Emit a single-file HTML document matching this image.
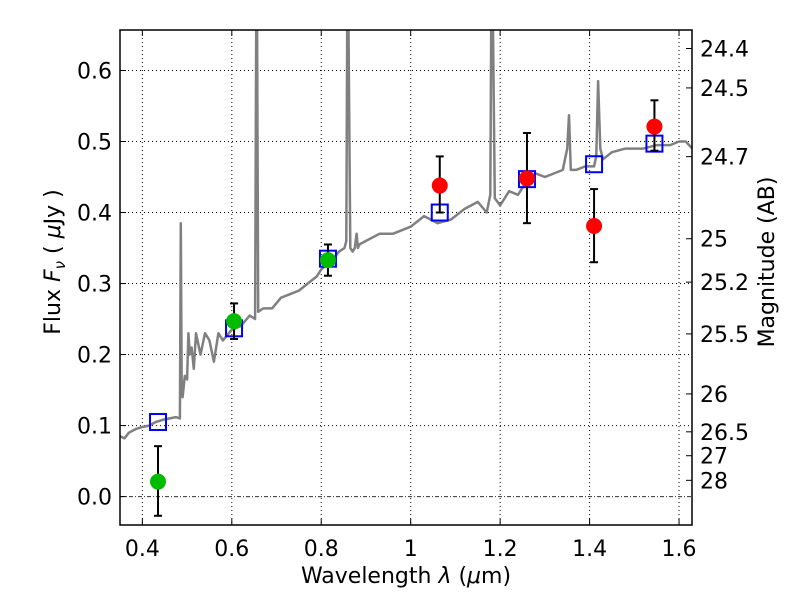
<!DOCTYPE html>
<html><head><meta charset="utf-8"><style>
html,body{margin:0;padding:0;background:#fff;}
svg text{font-family:"DejaVu Sans","Liberation Sans",sans-serif;fill:#000;}
</style></head><body>
<svg id="chart" width="800" height="600" viewBox="0 0 800 600" xmlns="http://www.w3.org/2000/svg"></svg>
<script>
// ---- data ----
const specLam = [0.35,0.36,0.37,0.385,0.40,0.415,0.43,0.445,0.46,0.475,0.484,0.486,0.488,0.49,0.495,0.5,0.503,0.506,0.51,0.515,0.52,0.53,0.54,0.55,0.56,0.57,0.58,0.6,0.62,0.64,0.652,0.6545,0.6565,0.659,0.67,0.69,0.71,0.73,0.75,0.77,0.79,0.8,0.82,0.84,0.852,0.856,0.858,0.861,0.865,0.87,0.875,0.879,0.882,0.885,0.9,0.93,0.96,1.0,1.03,1.06,1.09,1.12,1.15,1.17,1.178,1.18,1.184,1.188,1.2,1.22,1.24,1.26,1.28,1.3,1.32,1.34,1.35,1.354,1.358,1.37,1.39,1.41,1.415,1.419,1.424,1.43,1.45,1.48,1.5,1.52,1.55,1.58,1.6,1.615,1.63];
const specFlux = [0.085,0.082,0.09,0.095,0.098,0.1,0.105,0.108,0.11,0.112,0.11,0.385,0.15,0.14,0.17,0.165,0.23,0.2,0.21,0.18,0.23,0.2,0.23,0.22,0.19,0.23,0.22,0.235,0.24,0.255,0.25,0.66,0.66,0.26,0.265,0.265,0.28,0.285,0.29,0.3,0.31,0.32,0.33,0.345,0.35,0.36,0.66,0.66,0.35,0.345,0.35,0.37,0.35,0.355,0.36,0.37,0.37,0.38,0.395,0.385,0.39,0.405,0.415,0.4,0.425,0.66,0.66,0.42,0.41,0.43,0.425,0.445,0.455,0.45,0.455,0.46,0.49,0.537,0.46,0.46,0.465,0.465,0.48,0.585,0.49,0.475,0.485,0.49,0.49,0.49,0.495,0.495,0.5,0.5,0.49];
const photLam = [0.435,0.605,0.815,1.065,1.26,1.41,1.545];
const photFlux = [0.021,0.247,0.333,0.438,0.448,0.381,0.521];
const photErrLo = [0.048,0.025,0.022,0.038,0.063,0.051,0.034];
const photErrHi = [0.05,0.025,0.022,0.041,0.064,0.052,0.037];
const photColor = ['#00bb00','#00bb00','#00bb00','#ff0000','#ff0000','#ff0000','#ff0000'];
const modelLam = [0.435,0.605,0.815,1.065,1.26,1.41,1.545];
const modelFlux = [0.105,0.237,0.335,0.400,0.447,0.468,0.497];
const xTicks = [0.4,0.6,0.8,1.0,1.2,1.4,1.6];
const xTickLabels = ['0.4','0.6','0.8','1','1.2','1.4','1.6'];
const yTicks = [0.0,0.1,0.2,0.3,0.4,0.5,0.6];
const yTickLabels = ['0.0','0.1','0.2','0.3','0.4','0.5','0.6'];
const magTicks = [24.4,24.5,24.7,25,25.2,25.5,26,26.5,27,28];
const magTickLabels = ['24.4','24.5','24.7','25','25.2','25.5','26','26.5','27','28'];

// ---- axes ----
const L=120,R=692,T=30,B=525;
const xMin=0.35,xMax=1.629,yMin=-0.04,yMax=0.657;
const X=v=>L+(v-xMin)/(xMax-xMin)*(R-L);
const Y=v=>B-(v-yMin)/(yMax-yMin)*(B-T);
const magToFlux=m=>Math.pow(10,(23.9-m)/2.5);
const svg=document.getElementById('chart');
const NS='http://www.w3.org/2000/svg';
function mk(tag,attrs,parent){const e=document.createElementNS(NS,tag);for(const k in attrs)e.setAttribute(k,attrs[k]);(parent||svg).appendChild(e);return e;}
const FS=22;

const clip=mk('clipPath',{id:'pc'});mk('rect',{x:L,y:T,width:R-L,height:B-T},clip);

xTicks.forEach((t,i)=>{const g=mk('line',{x1:X(t),x2:X(t),y1:T,y2:B,stroke:'#000','stroke-width':1,'stroke-dasharray':'1,3'});

});
yTicks.forEach((t,i)=>{if(t===0)return;const g=mk('line',{x1:L,x2:R,y1:Y(t),y2:Y(t),stroke:'#000','stroke-width':1,'stroke-dasharray':'1,3'});

});
const zl=mk('line',{x1:L,x2:R,y1:Y(0),y2:Y(0),stroke:'#000','stroke-width':1,'stroke-dasharray':'4,2,1,2','opacity':0.8});



let d='';specLam.forEach((l,i)=>{d+=(i?'L':'M')+X(l).toFixed(1)+','+Y(specFlux[i]).toFixed(1);});
const sp=mk('path',{d:d,fill:'none',stroke:'#808080','stroke-width':2.5,'stroke-linejoin':'round','clip-path':'url(#pc)'});



modelLam.forEach((l,i)=>{const s=mk('rect',{x:X(l)-8,y:Y(modelFlux[i])-8,width:16,height:16,fill:'none',stroke:'#0000ff','stroke-width':2});

});

photLam.forEach((l,i)=>{const x=X(l),y1=Y(photFlux[i]+photErrHi[i]),y2=Y(photFlux[i]-photErrLo[i]);
const g=mk('g',{});


mk('line',{x1:x,x2:x,y1:y1,y2:y2,stroke:'#000','stroke-width':2},g);
mk('line',{x1:x-4,x2:x+4,y1:y1,y2:y1,stroke:'#000','stroke-width':2},g);
mk('line',{x1:x-4,x2:x+4,y1:y2,y2:y2,stroke:'#000','stroke-width':2},g);
const c=mk('circle',{cx:x,cy:Y(photFlux[i]),r:8,fill:photColor[i]});

});

const fr=mk('rect',{x:L,y:T,width:R-L,height:B-T,fill:'none',stroke:'#000','stroke-width':1.5});



xTicks.forEach((t,i)=>{mk('line',{x1:X(t),x2:X(t),y1:B,y2:B-6,stroke:'#000'});mk('line',{x1:X(t),x2:X(t),y1:T,y2:T+6,stroke:'#000'});
const tx=mk('text',{x:X(t),y:B+31,'text-anchor':'middle','font-size':FS});tx.textContent=xTickLabels[i];

});
yTicks.forEach((t,i)=>{mk('line',{x1:L,x2:L+6,y1:Y(t),y2:Y(t),stroke:'#000'});
const tx=mk('text',{x:L-8,y:Y(t)+8,'text-anchor':'end','font-size':FS});tx.textContent=yTickLabels[i];

});
magTicks.forEach((m,i)=>{const y=Y(magToFlux(m));mk('line',{x1:R,x2:R-6,y1:y,y2:y,stroke:'#000'});
const tx=mk('text',{x:R+8,y:y+8,'text-anchor':'start','font-size':FS});tx.textContent=magTickLabels[i];

});

const xt=mk('text',{x:406,y:583,'text-anchor':'middle','font-size':FS});xt.innerHTML='Wavelength  <tspan font-style="italic">λ</tspan> (<tspan font-style="italic">μ</tspan>m)';


const yt=mk('text',{x:0,y:0,'text-anchor':'middle','font-size':FS,transform:'translate(60,262) rotate(-90)'});yt.innerHTML='Flux  <tspan font-style="italic">F</tspan><tspan font-style="italic" font-size="15" dy="5">ν</tspan><tspan dy="-5">  ( </tspan><tspan font-style="italic">μ</tspan>Jy )';


const rt=mk('text',{x:0,y:0,'text-anchor':'middle','font-size':FS,transform:'translate(774,262) rotate(-90)'});rt.textContent='Magnitude (AB)';


</script>
</body></html>
